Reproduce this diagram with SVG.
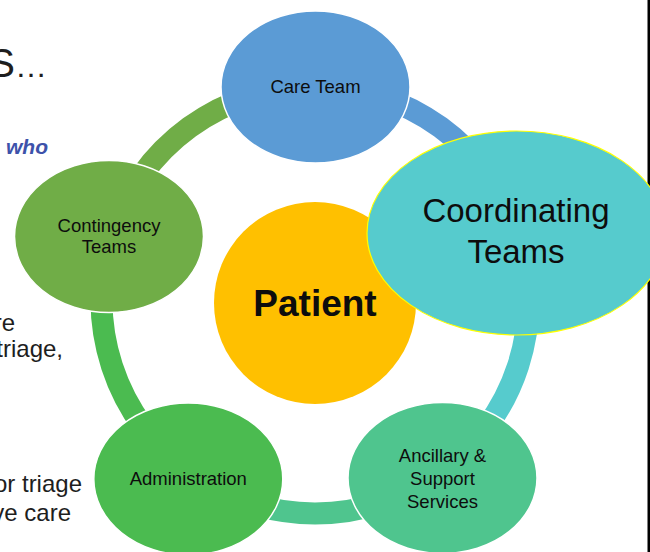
<svg xmlns="http://www.w3.org/2000/svg" width="650" height="552" viewBox="0 0 650 552">
<style>
.lbl{font-family:"Liberation Sans","Noto Sans",Arial,sans-serif;fill:#0d0d0d;text-anchor:middle;font-size:18.5px}
.body{font-family:"Liberation Sans","Noto Sans",Arial,sans-serif;fill:#1e1e1e;text-anchor:end;font-size:24px}
.ring{fill:none;stroke-width:22}
.node{stroke:#ffffff;stroke-width:1.5}
</style>
<rect width="650" height="552" fill="#ffffff"/>
<g id="background-text">
<text x="47" y="77" style="font-family:'Liberation Sans',Arial,sans-serif;font-size:40px;fill:#1e1e1e;text-anchor:end">S<tspan font-size="32">…</tspan></text>
<text x="48" y="154" style="font-family:'Liberation Sans',Arial,sans-serif;font-size:21px;font-weight:bold;font-style:italic;fill:#3d52aa;text-anchor:end">who</text>
<text class="body" x="15" y="331">re</text>
<text class="body" x="63" y="357">triage,</text>
<text class="body" x="82" y="492">or triage</text>
<text class="body" x="71" y="521">ve care</text>
</g>
<rect x="647.5" y="0" width="2.5" height="552" fill="#000000"/>
<g id="connectors">
<path class="ring" stroke="#5B9BD5" d="M315,86.5 A213.5,213.5 0 0 1 518.06,234.03"/>
<path class="ring" stroke="#56CBCD" d="M518.06,234.03 A213.5,213.5 0 0 1 440.49,472.73"/>
<path class="ring" stroke="#4FC58E" d="M440.49,472.73 A213.5,213.5 0 0 1 189.51,472.73"/>
<path class="ring" stroke="#4BBB50" d="M189.51,472.73 A213.5,213.5 0 0 1 111.94,234.03"/>
<path class="ring" stroke="#70AD47" d="M111.94,234.03 A213.5,213.5 0 0 1 315,86.5"/>
</g>
<g id="care-team">
<ellipse class="node" cx="315.5" cy="87" rx="94.5" ry="76" fill="#5B9BD5"/>
<text class="lbl" x="315.5" y="93">Care Team</text>
</g>
<g id="contingency-teams">
<ellipse class="node" cx="109" cy="236.5" rx="94.5" ry="76" fill="#70AD47"/>
<text class="lbl" x="109" y="232">Contingency</text>
<text class="lbl" x="109" y="253">Teams</text>
</g>
<g id="administration">
<ellipse class="node" cx="188.3" cy="479" rx="94.5" ry="76" fill="#4BBB50"/>
<text class="lbl" x="188.3" y="485">Administration</text>
</g>
<g id="ancillary">
<ellipse class="node" cx="442.5" cy="478" rx="94.5" ry="75.5" fill="#4FC58E"/>
<text class="lbl" x="442.5" y="462">Ancillary &amp;</text>
<text class="lbl" x="442.5" y="485">Support</text>
<text class="lbl" x="442.5" y="508">Services</text>
</g>
<g id="patient">
<circle cx="315" cy="303" r="101" fill="#FFC000"/>
<text x="315" y="316" style="font-family:'Liberation Sans',Arial,sans-serif;font-size:37px;font-weight:bold;fill:#0d0d0d;text-anchor:middle">Patient</text>
</g>
<g id="coordinating-teams">
<ellipse cx="516.5" cy="233" rx="149.5" ry="102" fill="#56CBCD" stroke="#FFFF00" stroke-width="1.2"/>
<text class="lbl" x="516" y="222" style="font-size:33px">Coordinating</text>
<text class="lbl" x="516" y="263" style="font-size:33px">Teams</text>
</g>
</svg>
